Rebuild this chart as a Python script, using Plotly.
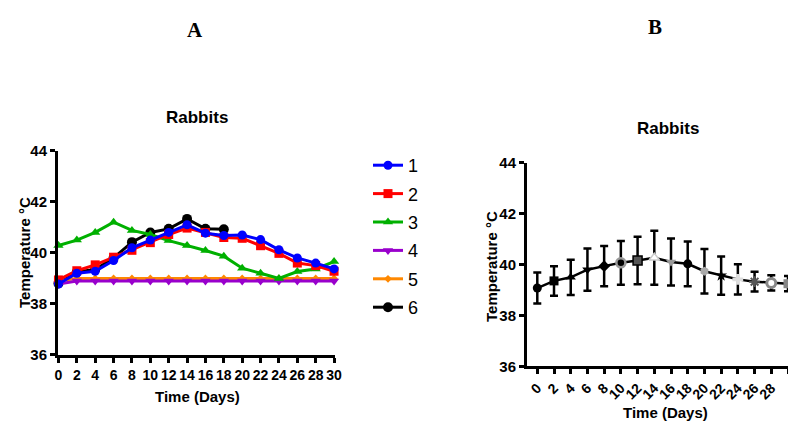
import plotly.graph_objects as go

days = [0, 2, 4, 6, 8, 10, 12, 14, 16, 18, 20, 22, 24, 26, 28, 30]
s1 = [38.78, 39.2, 39.28, 39.7, 40.2, 40.5, 40.8, 41.1, 40.77, 40.68, 40.7, 40.52, 40.12, 39.8, 39.6, 39.37]
s2 = [38.94, 39.3, 39.53, 39.83, 40.1, 40.4, 40.72, 40.97, 40.8, 40.6, 40.57, 40.28, 39.98, 39.6, 39.5, 39.28]
s3 = [40.29, 40.5, 40.8, 41.2, 40.88, 40.72, 40.48, 40.29, 40.09, 39.87, 39.4, 39.2, 39.0, 39.27, 39.37, 39.66]
s4 = [38.78, 38.9, 38.9, 38.9, 38.9, 38.9, 38.9, 38.9, 38.9, 38.9, 38.9, 38.9, 38.9, 38.9, 38.9, 38.9]
s5 = [38.9, 39.0, 39.0, 39.0, 39.0, 39.0, 39.0, 39.0, 39.0, 39.0, 39.0, 39.0, 39.0, 39.0, 39.0, 39.0]
days6 = [0, 2, 4, 6, 8, 10, 12, 14, 16, 18]
s6 = [38.8, 39.25, 39.35, 39.8, 40.42, 40.8, 40.94, 41.33, 40.94, 40.92]
series_names = ["1", "2", "3", "4", "5", "6"]

mean_b = [39.08, 39.36, 39.5, 39.8, 39.94, 40.07, 40.16, 40.27, 40.1, 40.03, 39.74, 39.57, 39.42, 39.33, 39.28, 39.25]
sd_b = [0.61, 0.58, 0.69, 0.83, 0.79, 0.86, 0.93, 1.06, 0.92, 0.88, 0.87, 0.75, 0.59, 0.39, 0.3, 0.3]

ytick_vals = [36, 38, 40, 42, 44]

FONT = "Liberation Sans, Arial, sans-serif"

fig = go.Figure()

styles = {
    "1": dict(color="#0000ff", symbol="circle", size=9),
    "2": dict(color="#ff0000", symbol="square", size=9),
    "3": dict(color="#00b000", symbol="triangle-up", size=9),
    "4": dict(color="#9900cc", symbol="triangle-down", size=9),
    "5": dict(color="#ff8800", symbol="diamond", size=6),
    "6": dict(color="#000000", symbol="circle", size=10),
}
data_a = {"1": (days, s1), "2": (days, s2), "3": (days, s3),
          "4": (days, s4), "5": (days, s5), "6": (days6, s6)}

for name in ["6", "5", "4", "3", "2", "1"]:
    x, y = data_a[name]
    st = styles[name]
    fig.add_trace(go.Scatter(
        x=x, y=y, name=name, mode="lines+markers", legendgroup=name,
        legendrank=series_names.index(name) + 1,
        line=dict(color=st["color"], width=3),
        marker=dict(color=st["color"], symbol=st["symbol"], size=st["size"]),
        xaxis="x", yaxis="y", cliponaxis=False))

b_symbols = ["circle", "square", "triangle-up", "triangle-down", "diamond", "circle",
             "square", "triangle-up", "triangle-down", "circle", "hexagon", "star",
             "cross", "asterisk-open", "circle", "square"]
b_colors = ["#000", "#000", "#000", "#000", "#000", "#000", "#555", "#fff", "#999",
            "#000", "#aaa", "#000", "#ddd", "#555", "#fff", "#888"]
b_lines = ["#000", "#000", "#000", "#000", "#000", "#999", "#000", "#ccc", "#999",
           "#000", "#aaa", "#000", "#ddd", "#555", "#888", "#888"]
b_lw = [0, 0, 0, 0, 0, 2.5, 1.5, 1.5, 0, 0, 0, 0, 0, 2, 3, 0]

fig.add_trace(go.Scatter(
    x=days, y=mean_b, mode="lines+markers", showlegend=False,
    line=dict(color="black", width=2.5),
    marker=dict(symbol=b_symbols, color=b_colors, size=9,
                line=dict(color=b_lines, width=b_lw)),
    error_y=dict(type="data", array=sd_b, visible=True, color="black",
                 thickness=2.5, width=4),
    xaxis="x2", yaxis="y2", cliponaxis=False))

axis_common = dict(showline=True, linecolor="black", linewidth=3, ticks="outside",
                   ticklen=5, tickwidth=3, tickcolor="black", showgrid=False,
                   zeroline=False, mirror=False, automargin=False)

fig.update_layout(
    width=788, height=421, margin=dict(l=0, r=0, t=0, b=0, autoexpand=False),
    paper_bgcolor="white", plot_bgcolor="white",
    font=dict(family=FONT, color="black"),
    xaxis=dict(domain=[0.0736, 0.4251], range=[-0.05, 30.1], tickvals=days,
               tickfont=dict(size=14, family=FONT, weight="bold"), tickangle=0,
               anchor="y", **axis_common),
    yaxis=dict(domain=[0.1568, 0.642], range=[36, 44], tickvals=ytick_vals,
               tickfont=dict(size=15, family=FONT, weight="bold"),
               anchor="x", **axis_common),
    xaxis2=dict(domain=[0.6688, 1.0], range=[-1.23, 30.0], tickvals=days,
                tickfont=dict(size=14, family=FONT, weight="bold"), tickangle=-45,
                anchor="y2", **axis_common),
    yaxis2=dict(domain=[0.1295, 0.6135], range=[36, 44], tickvals=ytick_vals,
                tickfont=dict(size=15, family=FONT, weight="bold"),
                anchor="x2", **axis_common),
    legend=dict(x=0.467, y=1 - 147 / 421, xanchor="left", yanchor="top",
                traceorder="grouped", font=dict(size=18, family=FONT),
                bgcolor="rgba(0,0,0,0)", itemwidth=30, tracegroupgap=2),
    showlegend=True,
)

ann = [
    dict(text="<b>A</b>", x=195, y=30, font=dict(size=21, family="Liberation Serif, Times New Roman, serif")),
    dict(text="<b>B</b>", x=655, y=27, font=dict(size=21, family="Liberation Serif, Times New Roman, serif")),
    dict(text="<b>Rabbits</b>", x=197, y=117, font=dict(size=17, family=FONT)),
    dict(text="<b>Rabbits</b>", x=668, y=128, font=dict(size=17, family=FONT)),
    dict(text="<b>Time (Days)</b>", x=197, y=396, font=dict(size=15, family=FONT)),
    dict(text="<b>Time (Days)</b>", x=665, y=412, font=dict(size=15, family=FONT)),
    dict(text="<b>Temperature °C</b>", x=24, y=253, textangle=-90, font=dict(size=15, family=FONT)),
    dict(text="<b>Temperature °C</b>", x=491, y=266, textangle=-90, font=dict(size=15, family=FONT)),
]
fig.update_layout(annotations=[
    dict(text=a["text"], x=a["x"] / 788, y=1 - a["y"] / 421, xref="paper", yref="paper",
         xanchor="center", yanchor="middle", showarrow=False, font=a["font"],
         textangle=a.get("textangle", 0))
    for a in ann])

fig.write_html("out.html", config={"displayModeBar": False},
               post_script="document.body.style.margin='0';document.body.style.overflow='hidden';")
